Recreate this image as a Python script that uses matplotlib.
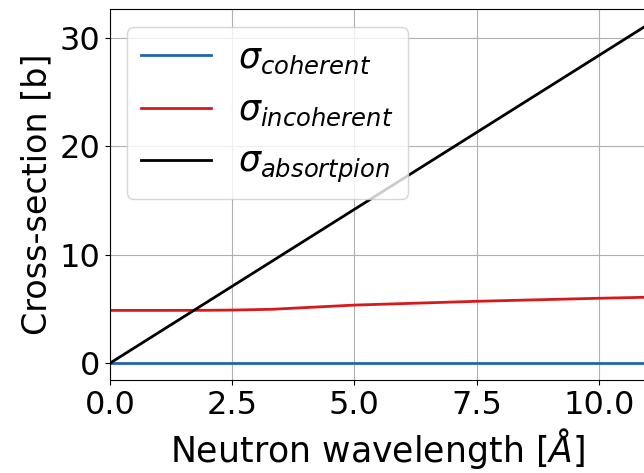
import matplotlib
matplotlib.use("Agg")
import matplotlib.pyplot as plt

# values
wavelength = [0.0, 1.0, 2.0, 2.5, 3.3, 5.0, 7.5, 10.0, 10.95]
sigma_coh = [0.02, 0.02, 0.02, 0.02, 0.02, 0.02, 0.02, 0.02, 0.02]
sigma_inc = [4.87, 4.87, 4.88, 4.90, 4.97, 5.36, 5.71, 5.99, 6.08]
sigma_abs = [0.0, 2.84, 5.68, 7.10, 9.37, 14.2, 21.3, 28.4, 31.1]

fig = plt.figure(figsize=(6.44, 4.73), dpi=100)
ax = fig.add_axes([0.1708, 0.1966, 0.832, 0.7837])

ax.plot(wavelength, sigma_coh, color="#2166ac", lw=2, label=r"$\sigma_{coherent}$")
ax.plot(wavelength, sigma_inc, color="#d7191c", lw=2, label=r"$\sigma_{incoherent}$")
ax.plot(wavelength, sigma_abs, color="black", lw=2, label=r"$\sigma_{absortpion}$")

ax.set_xlim(0, 10.96)
ax.set_ylim(-1.555, 32.66)
ax.set_xticks([0, 2.5, 5, 7.5, 10])
ax.set_yticks([0, 10, 20, 30])
ax.tick_params(labelsize=23)
ax.set_xlabel(r"Neutron wavelength [$\AA$]", fontsize=25)
ax.set_ylabel("Cross-section [b]", fontsize=24)
ax.grid(True)
ax.legend(loc="upper left", fontsize=25)

fig.savefig("out.png", dpi=100)
